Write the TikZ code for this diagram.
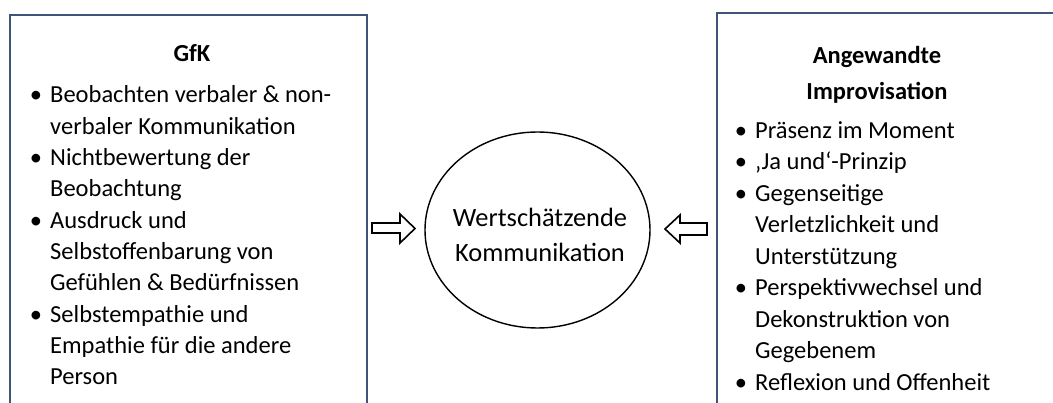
\documentclass[tikz,border=0pt]{standalone}
\usepackage{fontspec}
\setmainfont{Carlito}
\usetikzlibrary{shapes.geometric}
\definecolor{boxblue}{RGB}{62,84,122}
\begin{document}
\begin{tikzpicture}[x=1pt,y=-1pt,
  frame/.style={draw=boxblue, line width=2pt, rectangle, inner sep=0pt, anchor=north west},
  itemtext/.style={anchor=base west, inner sep=0pt, font=\fontsize{24.5}{31.3}\selectfont},
  ttl/.style={anchor=base, inner sep=0pt, font=\fontsize{24.5}{31.3}\selectfont\bfseries},
  blt/.style={anchor=base, inner sep=0pt, font=\fontsize{24.5}{31.3}\selectfont},
  blockarrow/.style={draw=black, line width=1.6pt, fill=white, line join=miter}
]
\useasboundingbox (0,0) rectangle (1053,403);
\clip (0,0) rectangle (1053,403);
\fill[white] (0,0) rectangle (1053,403);

% boxes
\node[frame, minimum width=357pt, minimum height=420pt] (gfk) at (9,14) {};
\node[frame, minimum width=360pt, minimum height=420pt] (imp) at (716,12.5) {};

% left box text
\node[ttl] (gt) at (192,62) {GfK};
\node[blt] (gb1) at (36,103) {•};
\node[itemtext] (g1) at (50,103) {Beobachten verbaler \& non-};
\node[itemtext] (g2) at (50,134.3) {verbaler Kommunikation};
\node[blt] (gb2) at (36,165.6) {•};
\node[itemtext] (g3) at (50,165.6) {Nichtbewertung der};
\node[itemtext] (g4) at (50,196.9) {Beobachtung};
\node[blt] (gb3) at (36,228.2) {•};
\node[itemtext] (g5) at (50,228.2) {Ausdruck und};
\node[itemtext] (g6) at (50,259.5) {Selbstoffenbarung von};
\node[itemtext] (g7) at (50,290.8) {Gefühlen \& Bedürfnissen};
\node[blt] (gb4) at (36,322.1) {•};
\node[itemtext] (g8) at (50,322.1) {Selbstempathie und};
\node[itemtext] (g9) at (50,353.4) {Empathie für die andere};
\node[itemtext] (g10) at (50,384.7) {Person};

% right box text
\node[ttl] (it1) at (877,64) {Angewandte};
\node[ttl] (it2) at (877,100) {Improvisation};
\node[blt] (ib1) at (741,138.5) {•};
\node[itemtext] (i1) at (755,138.5) {Präsenz im Moment};
\node[blt] (ib2) at (741,170) {•};
\node[itemtext] (i2) at (755,170) {‚Ja und‘-Prinzip};
\node[blt] (ib3) at (741,201.5) {•};
\node[itemtext] (i3) at (755,201.5) {Gegenseitige};
\node[itemtext] (i4) at (755,233) {Verletzlichkeit und};
\node[itemtext] (i5) at (755,264.5) {Unterstützung};
\node[blt] (ib4) at (741,296) {•};
\node[itemtext] (i6) at (755,296) {Perspektivwechsel und};
\node[itemtext] (i7) at (755,327.5) {Dekonstruktion von};
\node[itemtext] (i8) at (755,359) {Gegebenem};
\node[blt] (ib5) at (741,390.5) {•};
\node[itemtext] (i9) at (755,390.5) {Reflexion und Offenheit};

% centre ellipse
\node[draw, ellipse, line width=1.4pt, minimum width=225pt, minimum height=196pt, inner sep=0pt] (wk) at (537.5,230) {};
\node[align=center, inner sep=0pt, font=\fontsize{26.4}{35}\selectfont] (wkt) at (540,235)
      {Wertschätzende\\Kommunikation};

% block arrows
\draw[blockarrow] (372,223) -- (400,223) -- (400,214) -- (415,228.5) -- (400,243) -- (400,233) -- (372,233) -- cycle;
\draw[blockarrow] (707,223) -- (680,223) -- (680,215) -- (665,229) -- (680,243) -- (680,235) -- (707,235) -- cycle;
\end{tikzpicture}
\end{document}
